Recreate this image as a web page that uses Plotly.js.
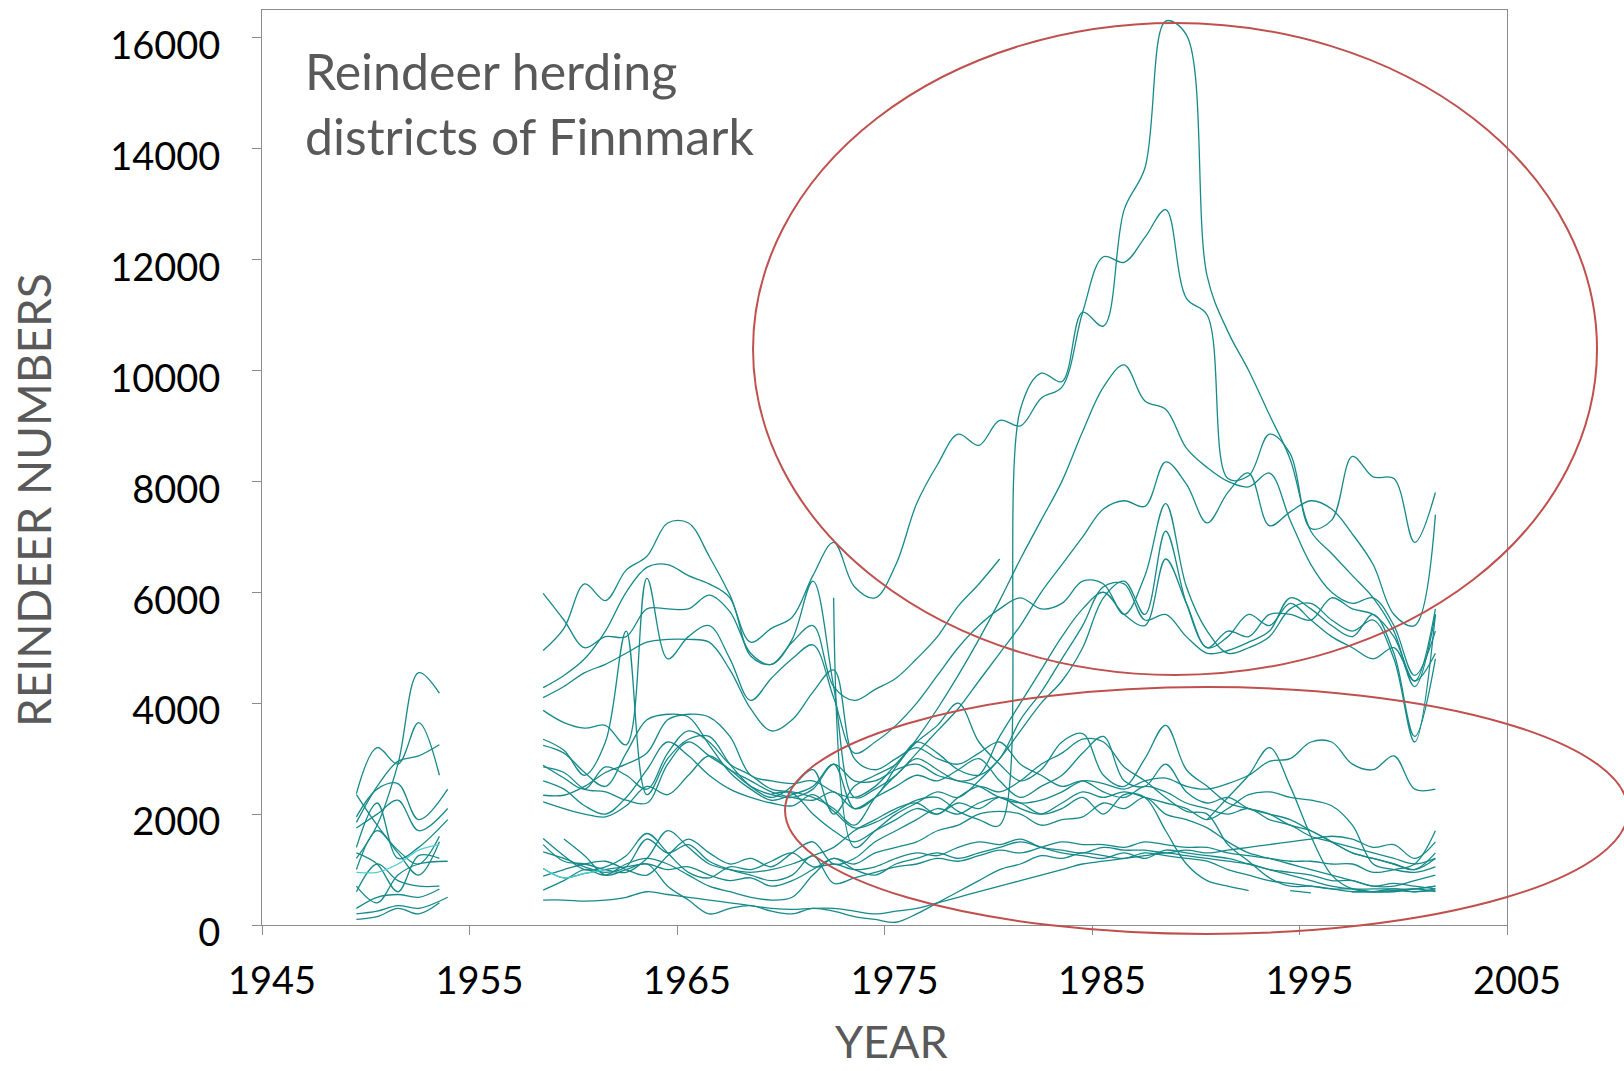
<!DOCTYPE html>
<html>
<head>
<meta charset="utf-8">
<script src="https://cdn.plot.ly/plotly-3.0.1.min.js"></script>
<style>html,body{margin:0;padding:0;background:#fff;}#chart{width:1624px;height:1071px;}</style>
</head>
<body>
<div id="chart"></div>
<script>
// ---- data ----
const yearsA  = [1949.55, 1950.55, 1951.55, 1952.55, 1953.55];
const yearsA2 = [1949.55, 1950.55, 1951.55, 1952.55, 1953.95];
const yearsB  = [1958.55,1959.55,1960.55,1961.55,1962.55,1963.55,1964.55,1965.55,1966.55,1967.55,
                 1968.55,1969.55,1970.55,1971.55,1972.55,1973.55,1974.55,1975.55,1976.55,1977.55,
                 1978.55,1979.55,1980.55,1981.55,1982.55,1983.55,1984.55,1985.55,1986.55,1987.55,
                 1988.55,1989.55,1990.55,1991.55,1992.55,1993.55,1994.55,1995.55,1996.55,1997.55,
                 1998.55,1999.55,2000.55,2001.55];

// early period 1949-1954
const a01 = [1200, 1800, 2900, 4550, 4180];
const a02 = [2370, 3200, 2900, 3650, 2700];
const a03 = [1850, 2500, 2950, 3050, 3250];
const a04 = [1950, 2450, 2550, 1900, 2450];
const a05 = [1750, 2000, 2250, 1700, 2100];
const a06 = [2350, 1800, 1350, 1100, 1600];
const a07 = [1400, 2200, 1200, 1400, 1900];
const a08 = [1000, 1700, 1300, 900, 1500];
const a09 = [950, 950, 1100, 1350, 1450];
const a10 = [600, 1100, 800, 700, 700];
const a11 = [700, 400, 900, 1100, 1150];
const a12 = [300, 500, 550, 500, 650];
const a13 = [200, 250, 350, 300, 500];
const a14 = [100, 150, 300, 200, 400];
const a15 = [1300, 1100, 600, 1250, 1200];

// 1958-2001
const b01 = [4950,5350,6150,5850,6400, 6650,7250,7250,6650,5950, 5100,5350,5550,6300,6900,
             6100,5900,6500,7600,8300, 8850,8650,9100,9000,9500, 9700,11050,12050,11950,12400,
             12900,11300,11000,8050,8100, 8850,8500,7150,7300,8450, 8080,8050,6900,7800];
const b02 = [2600,2450,2150,2000,2300, 2800,3300,3050,2700,2450, 2300,2200,2150,2350,2050,
             1750,1850,2050,2250,2300, 2050,1900,1800,9300,9950, 9800,11050,10800,12900,13650,
             16300,16050,11700,10700,10000, 9200,8400,7100,6700,6300, 5900,5300,4300,5600];
const b03 = [3240,3100,2750,2500,3100, 3700,3800,3750,3250,2750, 2450,2250,2350,2500,2900,
             2100,2300,2850,3350,3900, 4500,5150,5850,6600,7300, 8000,8900,9700,10100,9450,
             9300,8600,8250,8000,7900, 8150,7300,6500,6000,5800, 5900,5400,4500,5300];
const b04 = [5980,5500,5000,5200,5200, 5700,5700,5700,5950,5650, 4900,4700,5150,6200,4300,
             2300,2450,2700,3100,3500, 3900,4400,4900,5400,6000, 6500,7000,7500,7650,7550,
             8350,7950,7250,7800,8150, 7200,7450,7650,7500,7050, 6500,5600,5400,7400];
const b05 = [4280,4500,4800,5300,6000, 6450,6500,6300,6150,5900, 4850,4700,5100,5400,4300,
             4050,4250,4450,4800,5200, 5750,6150,6600,null,null, null,null,null,null,null,
             null,null,null,null,null, null,null,null,null,null, null,null,null,null];
const b06 = [3870,3650,3550,3600,3250, 6250,4800,5200,5400,4800, 4050,4450,4800,5050,4100,
             3100,3300,3600,4000,4500, 5000,5400,5700,5900,5700, 5800,6200,6150,5600,6300,
             7600,6100,5300,4900,5000, 5200,5700,5800,5500,5300, 5500,4800,3300,5600];
const b07 = [3350,3150,2700,3300,5300, 2350,3000,3350,3400,2900, 2500,2300,2500,2800,2000,
             2500,2700,2900,3300,3100, 2800,2700,3000,3700,4200, 4800,5400,6100,6150,5500,
             5600,5200,4900,4950,5100, 5300,5900,5700,5400,5200, 5600,4900,3400,4800];
const b08 = [2880,2650,2450,2850,2700, 2450,3100,3500,3300,2900, 2700,2450,2400,2300,2100,
             1800,2300,2700,3000,2800, 2600,2700,3400,4000,4600, 5200,5700,6000,5600,5400,
             6600,5800,5000,5300,5200, 5600,5600,5500,5900,5700, 5600,5200,4400,5700];
const b09 = [2340,2340,2500,2750,2900, 3100,3700,3800,3750,3400, 2700,2600,2550,2600,2400,
             2300,2500,2900,3300,3600, 4000,3300,2900,2600,2800, 3300,3450,2700,2500,3000,
             3600,2800,2500,2200,2100, 2000,1800,1700,1500,1300, 1200,1100,1000,1200];
const b10 = [2220,2100,2000,1950,2150, 2500,2350,2700,3050,2800, 2600,2400,2300,2250,2400,
             2100,2300,2500,2700,2600, 2800,3000,2600,2300,2500, 2700,3100,3400,2600,2500,
             2900,2400,2200,2300,2100, 2000,1900,1700,1500,1300, 1200,1100,1000,1300];
const b11 = [2850,2750,2450,2400,2250, 2200,2900,3300,3050,2800, 2500,2350,2300,2450,2900,
             2600,2600,2800,2900,2700, 2600,2500,2300,2200,2250, 2400,2600,2550,2450,2600,
             2650,2500,2450,2550,2700, 2950,3000,3300,3300,2900, 2800,3050,2450,2450];
const b12 = [null,null,null,null,null, null,null,null,null,null, null,null,null,null,5900,
             1400,1700,2000,2200,2400, 2300,2600,3000,3500,4000, 4400,5000,5900,6200,5600,
             7100,5800,5000,5200,5600, 5400,5800,5500,5200,5000, 4800,5000,4400,4900];
const b13 = [4100,4300,4550,4700,4900, 5100,5150,5150,5100,4600, 3900,3500,3700,4200,4600,
             3000,2800,3000,3200,3000, 2900,3100,3300,2900,2700, 2500,2600,2400,2300,2500,
             2400,2200,2100,2000,2100, 1900,1800,1600,1500,1400, 1300,1200,1100,1200];
const c01 = [1560,1250,1000,1050,1250, 1650,1300,950,850,1050, 1000,1150,1300,1050,1100,
             1000,1050,1200,1300,1250, 1400,1500,1450,1550,1400, 1350,1300,1400,1350,1350,
             1300,1350,1300,1350,1400, 1450,1500,1550,1600,1550, 1400,1450,1200,1500];
const c02 = [1320,1200,1050,950,1050, 1550,1300,1450,1150,1000, 900,800,900,1250,750,
             850,950,1050,1100,1200, 1150,1250,1350,1300,1400, 1500,1450,1450,1400,1500,
             1450,1400,1400,1300,1250, 1200,1150,1150,1100,1100, 950,1000,1100,1700];
const c03 = [1020,850,930,1000,1050, 1100,1000,1050,900,800, 850,700,800,1000,1200,
             1100,1300,1400,1500,1700, 1800,2000,2050,2000,1800, 1900,1950,2200,2100,2300,
             2000,1900,1750,1500,1300, 1200,1100,1000,900,800, 700,700,800,900];
const c04 = [630,800,1000,900,1100, 1200,1100,900,700,600, 500,450,500,900,1200,
             1000,900,1100,1200,1300, 1200,1300,1400,1500,1400, 1300,1250,1200,1300,1200,
             1350,1300,1250,1200,1100, 1000,950,900,800,800, 700,750,700,650];
const c05 = [450,450,430,450,500, 600,550,500,450,400, 350,300,280,300,300,
             250,200,250,300,400, 500,600,700,800,900, 1000,1100,1150,1200,1250,
             1300,1250,1200,1150,1100, 1000,900,800,700,650, 650,650,650,700];
const c06 = [null,1550,1250,900,1000, 1100,700,450,200,300, 350,250,200,300,250,
             150,100,50,200,400, 600,800,1000,1100,1250, 1200,1300,1250,1200,1300,
             1250,1200,1150,1000,900, 800,750,700,650,650, 600,600,650,600];
const c07 = [1450,1150,1100,1000,950, 1200,1700,1400,1100,1000, 950,1000,1100,1250,1400,
             1700,1900,2100,2200,2000, 2300,2500,2400,2600,2900, 3100,3350,3300,2850,2600,
             2300,2050,2000,1450,1150, 850,700,700,650,600, 600,620,600,620];
const c08 = [880,1000,1100,1150,1000, 900,1250,1550,1300,1100, 1200,1050,1300,1500,1100,
             1200,1500,1700,1900,2100, 2000,2200,2300,2200,2000, 2100,2300,2000,2350,2300,
             1700,1100,800,700,620, null,620,580,null,600, 600,650,600,650];
const c09 = [null,null,null,null,null, null,null,null,null,null, null,2360,2380,2000,1700,
             1500,1700,1900,2100,2000, 2200,2100,2300,2100,2000, 2200,2400,2300,2400,2300,
             2200,2100,1900,2100,2350, 2400,2300,2250,2150,1800, 1100,1000,950,1050];
const c10 = [null,null,null,null,null, null,null,null,null,null, null,null,null,null,null,
             null,null,null,null,null, null,null,null,null,null, null,null,null,null,null,
             null,null,1900,2300,2700, 3200,2500,1600,900,650, 600,620,650,700];

const yTicks = [0, 2000, 4000, 6000, 8000, 10000, 12000, 14000, 16000];
const xTicks = [1945, 1955, 1965, 1975, 1985, 1995, 2005];

// ---- traces ----
const TEAL = '#168a8a';
const CYAN = '#4fcfcf';
function tr(x, y, color) {
  return {x: x, y: y, type: 'scatter', mode: 'lines', connectgaps: false, hoverinfo: 'skip',
          line: {color: color || TEAL, width: 1.3, shape: 'spline', smoothing: 1}};
}
const traces = [
  tr(yearsA, a01), tr(yearsA, a02), tr(yearsA, a03), tr(yearsA2, a04), tr(yearsA2, a05),
  tr(yearsA, a06), tr(yearsA2, a07), tr(yearsA, a08), tr(yearsA, a10), tr(yearsA2, a11),
  tr(yearsA, a12), tr(yearsA2, a13), tr(yearsA, a14), tr(yearsA, a15), tr(yearsA, a09, CYAN),
  tr(yearsB, b01), tr(yearsB, b02), tr(yearsB, b03), tr(yearsB, b04), tr(yearsB, b05),
  tr(yearsB, b06), tr(yearsB, b07), tr(yearsB, b08), tr(yearsB, b09), tr(yearsB, b10),
  tr(yearsB, b11), tr(yearsB, b12), tr(yearsB, b13),
  tr(yearsB, c01), tr(yearsB, c02), tr(yearsB, c03), tr(yearsB, c04), tr(yearsB, c05),
  tr(yearsB, c06), tr(yearsB, c07), tr(yearsB, c08), tr(yearsB, c09), tr(yearsB, c10),
  tr(yearsB.slice(0, 4), c03.slice(0, 4), CYAN)
];

const AXC = '#8c8c8c';
const layout = {
  width: 1624, height: 1071,
  margin: {l: 262, r: 117, t: 10, b: 146},
  paper_bgcolor: '#ffffff', plot_bgcolor: '#ffffff',
  showlegend: false,
  font: {family: 'Lato, sans-serif', color: '#000'},
  xaxis: {
    range: [1945, 2005], tickvals: xTicks, ticks: 'outside', ticklen: 9, tickwidth: 1,
    tickcolor: AXC, showline: true, linecolor: AXC, linewidth: 1, mirror: true,
    showgrid: false, zeroline: false, tickfont: {size: 38, color: '#000'},
    ticklabelstandoff: 13, ticklabelshift: 10
  },
  yaxis: {
    range: [0, 16500], tickvals: yTicks, tickformat: 'd', ticks: 'outside', ticklen: 9, tickwidth: 1,
    tickcolor: AXC, showline: true, linecolor: AXC, linewidth: 1, mirror: true,
    showgrid: false, zeroline: false, tickfont: {size: 38, color: '#000'},
    ticklabelstandoff: 24, ticklabelshift: 8
  },
  annotations: [
    {xref: 'paper', yref: 'paper', x: -0.1831, y: 0.4645, text: 'REINDEER NUMBERS', textangle: -90,
     showarrow: false, xanchor: 'center', yanchor: 'middle', font: {size: 46, color: '#595959'}},
    {xref: 'paper', yref: 'paper', x: 0.506, y: -0.1269, text: 'YEAR',
     showarrow: false, xanchor: 'center', yanchor: 'middle', font: {size: 45, color: '#595959'}},
    {xref: 'paper', yref: 'paper', x: 0.0333, y: 0.8973, text: 'Reindeer herding<br>districts of Finnmark',
     showarrow: false, xanchor: 'left', yanchor: 'middle', align: 'left', font: {size: 50, color: '#595959'}}
  ],
  shapes: [
    {type: 'circle', xref: 'paper', yref: 'paper', x0: 0.3944, x1: 1.0723, y0: 0.2732, y1: 0.9858,
     line: {color: '#c0504d', width: 2}, layer: 'above'},
    {type: 'circle', xref: 'paper', yref: 'paper', x0: 0.4201, x1: 1.0972, y0: -0.0098, y1: 0.2601,
     line: {color: '#c0504d', width: 2}, layer: 'above'}
  ]
};

Plotly.newPlot('chart', traces, layout, {displayModeBar: false, staticPlot: true});
</script>
</body>
</html>
